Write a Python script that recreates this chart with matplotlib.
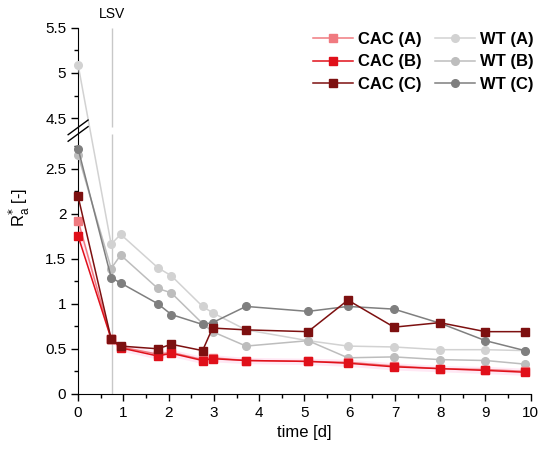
import matplotlib
matplotlib.use("Agg")
import numpy as np
import matplotlib.pyplot as plt
from matplotlib.ticker import FixedLocator

plt.rcParams['font.family'] = ['Liberation Sans', 'DejaVu Sans']

# data
time = [0, 0.73, 0.94, 1.76, 2.06, 2.75, 2.97, 3.71, 5.08, 5.96, 6.98, 7.99, 9.0, 9.87]
cac_a = [1.92, 0.61, 0.52, 0.44, 0.46, 0.38, 0.40, 0.37, 0.36, 0.35, 0.31, 0.28, 0.27, 0.25]
cac_b = [1.75, 0.61, 0.51, 0.42, 0.45, 0.37, 0.39, 0.37, 0.36, 0.34, 0.30, 0.28, 0.26, 0.24]
cac_c = [2.19, 0.61, 0.53, 0.50, 0.55, 0.48, 0.73, 0.71, 0.69, 1.04, 0.74, 0.79, 0.69, 0.69]
wt_a = [5.09, 1.66, 1.77, 1.40, 1.31, 0.97, 0.90, 0.71, 0.59, 0.53, 0.52, 0.49, 0.49, 0.48]
wt_b = [2.65, 1.39, 1.54, 1.17, 1.12, 0.78, 0.69, 0.53, 0.59, 0.40, 0.41, 0.38, 0.37, 0.33]
wt_c = [2.72, 1.29, 1.23, 1.00, 0.88, 0.77, 0.79, 0.97, 0.915, 0.97, 0.94, 0.785, 0.59, 0.48]
lsv_day = 0.75

y_major = [0, 0.5, 1, 1.5, 2, 2.5, 4.5, 5, 5.5]
y_minor = [0.25, 0.75, 1.25, 1.75, 2.25, 2.75, 4.75, 5.25]

# broken y axis: lower part 0..2.88, upper part 4.40..5.5
low_top, up_bot, gap = 2.88, 4.40, 0.08


def fwd(y):
    y = np.asarray(y, dtype=float)
    mid = low_top + (y - low_top) / (up_bot - low_top) * gap
    return np.where(y <= low_top, y, np.where(y >= up_bot, y - up_bot + low_top + gap, mid))


def inv(v):
    v = np.asarray(v, dtype=float)
    mid = low_top + (v - low_top) / gap * (up_bot - low_top)
    return np.where(v <= low_top, v, np.where(v >= low_top + gap, v - low_top - gap + up_bot, mid))


series = [
    ("WT (A)", wt_a, "#d2d2d2", "o"),
    ("WT (B)", wt_b, "#bdbdbd", "o"),
    ("WT (C)", wt_c, "#7f7f7f", "o"),
    ("CAC (A)", cac_a, "#f07a80", "s"),
    ("CAC (B)", cac_b, "#e0101a", "s"),
    ("CAC (C)", cac_c, "#7d1010", "s"),
]

fig, ax = plt.subplots(figsize=(5.5, 4.65), dpi=100)
fig.subplots_adjust(left=0.142, right=0.965, top=0.94, bottom=0.153)
ax.set_yscale("function", functions=(fwd, inv))

ax.vlines(lsv_day, 0, low_top, color="#c8c8c8", lw=1.0, zorder=1)
ax.vlines(lsv_day, up_bot, 5.5, color="#c8c8c8", lw=1.0, zorder=1)

# faint band around the lower CAC curves
ax.fill_between(time, [v - 0.035 for v in cac_b], [v + 0.035 for v in cac_a],
                color="#ffd9ee", alpha=0.6, lw=0, zorder=1)

handles = {}
for name, vals, col, mk in series:
    ln, = ax.plot(time, vals, color=col, marker=mk, ms=5.5, lw=1.1,
                  label=name, zorder=3, clip_on=False)
    handles[name] = ln

ax.set_ylim(0, 5.5)
ax.set_xlim(0, 10)
ax.yaxis.set_major_locator(FixedLocator(y_major))
ax.yaxis.set_minor_locator(FixedLocator(y_minor))
ax.yaxis.set_major_formatter(plt.FuncFormatter(lambda v, p: "%g" % v))
ax.set_xticks(range(0, 11))
ax.set_xticks(np.arange(0.5, 10, 1), minor=True)

ax.spines["right"].set_visible(False)
ax.spines["top"].set_visible(False)
ax.tick_params(which="major", direction="out", length=5, width=1, labelsize=11)
ax.tick_params(which="minor", direction="out", length=3, width=1)

# break marks on the left spine (axes fraction of the gap centre)
yb = float(fwd(low_top) + gap / 2) / float(fwd(5.5))
for off in (-0.009, 0.009):
    ax.plot([-0.022, 0.022], [yb + off - 0.02, yb + off + 0.02], transform=ax.transAxes,
            color="black", lw=1.0, clip_on=False, zorder=5)

ax.text(lsv_day, 1.02, "LSV", transform=ax.get_xaxis_transform(),
        ha="center", va="bottom", fontsize=10)

ax.set_xlabel("time [d]", fontsize=12)
fig.text(0.036, 0.555, r"R$_\mathregular{a}^{*}$ [-]", rotation=90,
         ha="center", va="center", fontsize=12)

order = ["CAC (A)", "CAC (B)", "CAC (C)", "WT (A)", "WT (B)", "WT (C)"]
ax.legend([handles[n] for n in order], order, ncol=2, loc="upper right",
          bbox_to_anchor=(1.04, 1.03), frameon=False,
          prop={"weight": "bold", "size": 12}, handlelength=2.4,
          columnspacing=0.8, labelspacing=0.45, handletextpad=0.3)

fig.savefig("out.png", dpi=100)
